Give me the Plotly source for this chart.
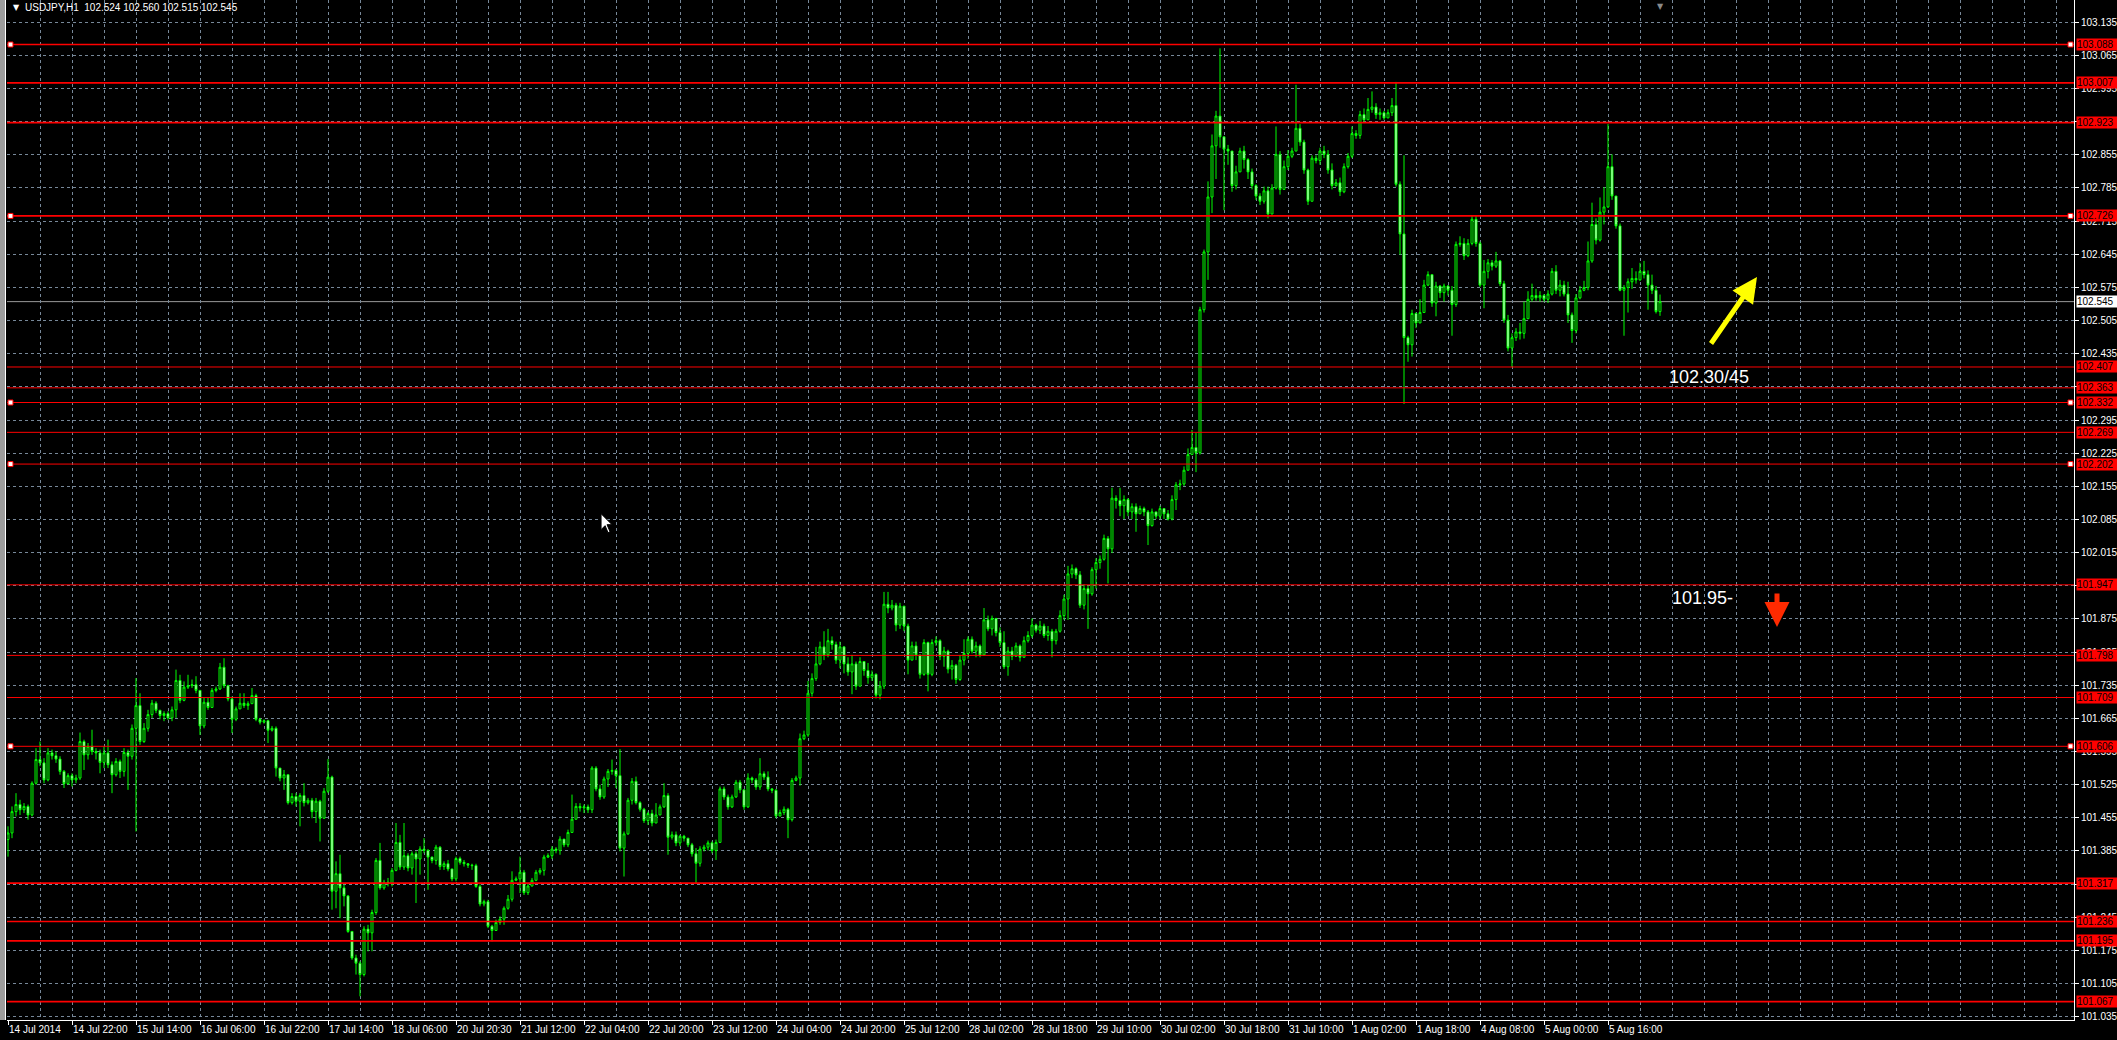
import plotly.graph_objects as go

# ---------------- data ----------------
chart_title = "USDJPY,H1  102.524 102.560 102.515 102.545"

x_labels = ["14 Jul 2014", "14 Jul 22:00", "15 Jul 14:00", "16 Jul 06:00", "16 Jul 22:00",
            "17 Jul 14:00", "18 Jul 06:00", "20 Jul 20:30", "21 Jul 12:00", "22 Jul 04:00",
            "22 Jul 20:00", "23 Jul 12:00", "24 Jul 04:00", "24 Jul 20:00", "25 Jul 12:00",
            "28 Jul 02:00", "28 Jul 18:00", "29 Jul 10:00", "30 Jul 02:00", "30 Jul 18:00",
            "31 Jul 10:00", "1 Aug 02:00", "1 Aug 18:00", "4 Aug 08:00", "5 Aug 00:00",
            "5 Aug 16:00"]

closes = [
    101.423, 101.468, 101.483, 101.472, 101.479, 101.461, 101.528, 101.578, 101.571, 101.535,
    101.592, 101.586, 101.579, 101.553, 101.527, 101.544, 101.535, 101.539, 101.616, 101.588,
    101.606, 101.595, 101.592, 101.572, 101.592, 101.567, 101.546, 101.574, 101.553, 101.593,
    101.585, 101.644, 101.692, 101.616, 101.644, 101.673, 101.697, 101.682, 101.671, 101.675,
    101.666, 101.683, 101.745, 101.703, 101.731, 101.734, 101.736, 101.724, 101.649, 101.699,
    101.688, 101.724, 101.727, 101.773, 101.734, 101.706, 101.663, 101.685, 101.697, 101.692,
    101.696, 101.713, 101.663, 101.657, 101.660, 101.640, 101.644, 101.560, 101.539, 101.546,
    101.487, 101.500, 101.490, 101.502, 101.487, 101.492, 101.468, 101.490, 101.454, 101.511,
    101.541, 101.300, 101.337, 101.307, 101.290, 101.215, 101.159, 101.148, 101.124, 101.220,
    101.212, 101.255, 101.365, 101.307, 101.319, 101.316, 101.344, 101.403, 101.351, 101.375,
    101.349, 101.379, 101.368, 101.389, 101.386, 101.372, 101.365, 101.393, 101.352, 101.358,
    101.347, 101.326, 101.369, 101.361, 101.358, 101.355, 101.354, 101.310, 101.273, 101.278,
    101.226, 101.217, 101.234, 101.241, 101.264, 101.283, 101.323, 101.326, 101.340, 101.297,
    101.311, 101.323, 101.340, 101.344, 101.372, 101.375, 101.389, 101.386, 101.410, 101.398,
    101.424, 101.452, 101.479, 101.476, 101.478, 101.472, 101.560, 101.516, 101.499, 101.537,
    101.553, 101.555, 101.544, 101.391, 101.421, 101.492, 101.532, 101.487, 101.473, 101.449,
    101.464, 101.444, 101.461, 101.478, 101.502, 101.414, 101.419, 101.402, 101.416, 101.412,
    101.398, 101.379, 101.359, 101.389, 101.393, 101.402, 101.386, 101.403, 101.516, 101.499,
    101.478, 101.499, 101.530, 101.514, 101.478, 101.539, 101.535, 101.520, 101.548, 101.541,
    101.516, 101.513, 101.459, 101.466, 101.473, 101.451, 101.534, 101.539,
    101.622, 101.630, 101.718, 101.749, 101.780, 101.816, 101.799, 101.829, 101.821, 101.788,
    101.816, 101.780, 101.763, 101.780, 101.733, 101.785, 101.766, 101.751, 101.758, 101.714,
    101.733, 101.906, 101.898, 101.904, 101.862, 101.902, 101.860, 101.788, 101.818, 101.799,
    101.758, 101.825, 101.758, 101.825, 101.829, 101.796, 101.807, 101.769, 101.777, 101.747,
    101.788, 101.802, 101.832, 101.807, 101.818, 101.799, 101.873, 101.854, 101.876, 101.846,
    101.825, 101.774, 101.807, 101.796, 101.818, 101.794, 101.829, 101.840, 101.862, 101.851,
    101.860, 101.840, 101.849, 101.829, 101.849, 101.882, 101.917, 101.970, 101.981, 101.968,
    101.904, 101.939, 101.928, 101.979, 101.994, 102.001, 102.045, 102.023, 102.130, 102.125,
    102.114, 102.127, 102.101, 102.112, 102.097, 102.108, 102.101, 102.072, 102.101, 102.092,
    102.108, 102.097, 102.086, 102.127, 102.158, 102.160, 102.189, 102.222, 102.237, 102.226,
    102.528, 102.650, 102.766, 102.874, 102.937, 102.893, 102.867, 102.863, 102.790, 102.819,
    102.863, 102.845, 102.819, 102.790, 102.768, 102.757, 102.779, 102.730, 102.785, 102.856,
    102.782, 102.830, 102.852, 102.863, 102.911, 102.882, 102.823, 102.757, 102.848, 102.843,
    102.863, 102.856, 102.823, 102.790, 102.796, 102.777, 102.830, 102.852, 102.900, 102.896,
    102.940, 102.929, 102.951, 102.956, 102.940, 102.944, 102.933, 102.944, 102.959, 102.793,
    102.688, 102.469, 102.454, 102.520, 102.500, 102.522, 102.580, 102.602, 102.542, 102.578,
    102.564, 102.578, 102.569, 102.539, 102.666, 102.668, 102.642, 102.668, 102.719, 102.668,
    102.580, 102.609, 102.627, 102.620, 102.631, 102.583, 102.506, 102.447, 102.469, 102.481,
    102.478, 102.509, 102.550, 102.558, 102.553, 102.558, 102.550, 102.561, 102.609, 102.569,
    102.580, 102.561, 102.517, 102.484, 102.553, 102.569, 102.575, 102.631, 102.708, 102.675,
    102.734, 102.745, 102.830, 102.768, 102.705, 102.569, 102.575, 102.587, 102.594, 102.591,
    102.609, 102.602, 102.580, 102.569, 102.524, 102.545,
]

opens = [
    101.409,
    101.423, 101.468, 101.483, 101.472, 101.479, 101.461, 101.528, 101.578, 101.571, 101.535,
    101.592, 101.586, 101.579, 101.553, 101.527, 101.544, 101.535, 101.539, 101.616, 101.588,
    101.606, 101.595, 101.592, 101.572, 101.592, 101.567, 101.546, 101.574, 101.553, 101.593,
    101.585, 101.644, 101.692, 101.616, 101.644, 101.673, 101.697, 101.682, 101.671, 101.675,
    101.666, 101.683, 101.745, 101.703, 101.731, 101.734, 101.736, 101.724, 101.649, 101.699,
    101.688, 101.724, 101.727, 101.773, 101.734, 101.706, 101.663, 101.685, 101.697, 101.692,
    101.696, 101.713, 101.663, 101.657, 101.660, 101.640, 101.644, 101.560, 101.539, 101.546,
    101.487, 101.500, 101.490, 101.502, 101.487, 101.492, 101.468, 101.490, 101.454, 101.511,
    101.541, 101.300, 101.337, 101.307, 101.290, 101.215, 101.159, 101.148, 101.124, 101.220,
    101.212, 101.255, 101.365, 101.307, 101.319, 101.316, 101.344, 101.403, 101.351, 101.375,
    101.349, 101.379, 101.368, 101.389, 101.386, 101.372, 101.365, 101.393, 101.352, 101.358,
    101.347, 101.326, 101.369, 101.361, 101.358, 101.355, 101.354, 101.310, 101.273, 101.278,
    101.226, 101.217, 101.234, 101.241, 101.264, 101.283, 101.323, 101.326, 101.340, 101.297,
    101.311, 101.323, 101.340, 101.344, 101.372, 101.375, 101.389, 101.386, 101.410, 101.398,
    101.424, 101.452, 101.479, 101.476, 101.478, 101.472, 101.560, 101.516, 101.499, 101.537,
    101.553, 101.555, 101.544, 101.391, 101.421, 101.492, 101.532, 101.487, 101.473, 101.449,
    101.464, 101.444, 101.461, 101.478, 101.502, 101.414, 101.419, 101.402, 101.416, 101.412,
    101.398, 101.379, 101.359, 101.389, 101.393, 101.402, 101.386, 101.403, 101.516, 101.499,
    101.478, 101.499, 101.530, 101.514, 101.478, 101.539, 101.535, 101.520, 101.548, 101.541,
    101.516, 101.513, 101.459, 101.466, 101.473, 101.451, 101.534, 101.539,
    101.622, 101.630, 101.718, 101.749, 101.780, 101.816, 101.799, 101.829, 101.821, 101.788,
    101.816, 101.780, 101.763, 101.780, 101.733, 101.785, 101.766, 101.751, 101.758, 101.714,
    101.733, 101.906, 101.898, 101.904, 101.862, 101.902, 101.860, 101.788, 101.818, 101.799,
    101.758, 101.825, 101.758, 101.825, 101.829, 101.796, 101.807, 101.769, 101.777, 101.747,
    101.788, 101.802, 101.832, 101.807, 101.818, 101.799, 101.873, 101.854, 101.876, 101.846,
    101.825, 101.774, 101.807, 101.796, 101.818, 101.794, 101.829, 101.840, 101.862, 101.851,
    101.860, 101.840, 101.849, 101.829, 101.849, 101.882, 101.917, 101.970, 101.981, 101.968,
    101.904, 101.939, 101.928, 101.979, 101.994, 102.001, 102.045, 102.023, 102.130, 102.125,
    102.114, 102.127, 102.101, 102.112, 102.097, 102.108, 102.101, 102.072, 102.101, 102.092,
    102.108, 102.097, 102.086, 102.127, 102.158, 102.160, 102.189, 102.222, 102.237, 102.226,
    102.528, 102.650, 102.766, 102.874, 102.937, 102.893, 102.867, 102.863, 102.790, 102.819,
    102.863, 102.845, 102.819, 102.790, 102.768, 102.757, 102.779, 102.730, 102.785, 102.856,
    102.782, 102.830, 102.852, 102.863, 102.911, 102.882, 102.823, 102.757, 102.848, 102.843,
    102.863, 102.856, 102.823, 102.790, 102.796, 102.777, 102.830, 102.852, 102.900, 102.896,
    102.940, 102.929, 102.951, 102.956, 102.940, 102.944, 102.933, 102.944, 102.959, 102.793,
    102.688, 102.469, 102.454, 102.520, 102.500, 102.522, 102.580, 102.602, 102.542, 102.578,
    102.564, 102.578, 102.569, 102.539, 102.666, 102.668, 102.642, 102.668, 102.719, 102.668,
    102.580, 102.609, 102.627, 102.620, 102.631, 102.583, 102.506, 102.447, 102.469, 102.481,
    102.478, 102.509, 102.550, 102.558, 102.553, 102.558, 102.550, 102.561, 102.609, 102.569,
    102.580, 102.561, 102.517, 102.484, 102.553, 102.569, 102.575, 102.631, 102.708, 102.675,
    102.734, 102.745, 102.830, 102.768, 102.705, 102.569, 102.575, 102.587, 102.594, 102.591,
    102.609, 102.602, 102.580, 102.569, 102.524,
]

highs = [
    101.437, 101.479, 101.507, 101.493, 101.486, 101.483, 101.532, 101.602, 101.616, 101.581,
    101.602, 101.599, 101.595, 101.585, 101.556, 101.549, 101.549, 101.546, 101.635, 101.620,
    101.613, 101.641, 101.602, 101.599, 101.606, 101.620, 101.574, 101.581, 101.578, 101.602,
    101.599, 101.652, 101.750, 101.718, 101.655, 101.683, 101.704, 101.701, 101.683, 101.680,
    101.680, 101.690, 101.768, 101.757, 101.743, 101.757, 101.747, 101.754, 101.725, 101.708,
    101.708, 101.729, 101.732, 101.782, 101.792, 101.736, 101.711, 101.690, 101.718, 101.718,
    101.701, 101.729, 101.717, 101.666, 101.663, 101.662, 101.649, 101.648, 101.558, 101.556,
    101.542, 101.507, 101.507, 101.507, 101.528, 101.497, 101.497, 101.497, 101.493, 101.518,
    101.579, 101.544, 101.363, 101.377, 101.314, 101.292, 101.215, 101.166, 101.152, 101.226,
    101.229, 101.261, 101.370, 101.402, 101.324, 101.328, 101.349, 101.444, 101.419, 101.444,
    101.380, 101.384, 101.384, 101.395, 101.412, 101.389, 101.373, 101.398, 101.395, 101.363,
    101.366, 101.342, 101.373, 101.373, 101.366, 101.359, 101.358, 101.358, 101.314, 101.282,
    101.282, 101.229, 101.240, 101.247, 101.268, 101.292, 101.342, 101.331, 101.373, 101.345,
    101.317, 101.328, 101.345, 101.349, 101.377, 101.380, 101.395, 101.393, 101.416, 101.409,
    101.430, 101.504, 101.486, 101.486, 101.483, 101.483, 101.564, 101.564, 101.525, 101.542,
    101.558, 101.578, 101.558, 101.600, 101.426, 101.497, 101.539, 101.542, 101.490, 101.476,
    101.468, 101.472, 101.486, 101.483, 101.528, 101.507, 101.426, 101.426, 101.419, 101.419,
    101.412, 101.402, 101.391, 101.395, 101.398, 101.407, 101.405, 101.409, 101.521, 101.521,
    101.504, 101.504, 101.535, 101.535, 101.514, 101.549, 101.542, 101.539, 101.581, 101.553,
    101.553, 101.518, 101.516, 101.472, 101.479, 101.476, 101.539, 101.544,
    101.633, 101.639, 101.744, 101.760, 101.816, 101.827, 101.849, 101.854, 101.838, 101.827,
    101.827, 101.799, 101.794, 101.799, 101.785, 101.794, 101.782, 101.782, 101.766, 101.760,
    101.744, 101.932, 101.932, 101.915, 101.909, 101.909, 101.898, 101.865, 101.827, 101.827,
    101.799, 101.832, 101.827, 101.832, 101.838, 101.832, 101.816, 101.810, 101.788, 101.780,
    101.799, 101.832, 101.838, 101.838, 101.827, 101.821, 101.898, 101.882, 101.882, 101.860,
    101.857, 101.849, 101.816, 101.816, 101.825, 101.821, 101.838, 101.849, 101.876, 101.865,
    101.871, 101.865, 101.860, 101.854, 101.854, 101.893, 101.926, 101.987, 101.990, 101.984,
    101.976, 101.948, 101.946, 101.984, 102.003, 102.009, 102.053, 102.050, 102.152, 102.136,
    102.152, 102.136, 102.130, 102.119, 102.119, 102.114, 102.112, 102.105, 102.108, 102.101,
    102.114, 102.108, 102.105, 102.136, 102.164, 102.169, 102.197, 102.235, 102.274, 102.268,
    102.534, 102.655, 102.799, 102.898, 102.948, 103.080, 102.882, 102.876, 102.859, 102.832,
    102.870, 102.874, 102.848, 102.826, 102.793, 102.774, 102.788, 102.788, 102.793, 102.915,
    102.863, 102.843, 102.865, 102.870, 103.003, 102.920, 102.887, 102.826, 102.854, 102.854,
    102.870, 102.874, 102.865, 102.837, 102.804, 102.807, 102.837, 102.859, 102.915, 102.907,
    102.948, 102.953, 102.975, 102.989, 102.964, 102.953, 102.948, 102.951, 102.975, 103.009,
    102.799, 102.854, 102.473, 102.528, 102.522, 102.550, 102.591, 102.609, 102.600, 102.587,
    102.580, 102.583, 102.580, 102.578, 102.672, 102.683, 102.679, 102.677, 102.727, 102.727,
    102.672, 102.633, 102.635, 102.633, 102.650, 102.633, 102.589, 102.517, 102.478, 102.489,
    102.500, 102.545, 102.567, 102.583, 102.572, 102.567, 102.561, 102.569, 102.616, 102.622,
    102.591, 102.589, 102.587, 102.522, 102.561, 102.578, 102.589, 102.672, 102.754, 102.721,
    102.765, 102.787, 102.920, 102.856, 102.754, 102.710, 102.580, 102.594, 102.616, 102.609,
    102.627, 102.631, 102.611, 102.602, 102.578, 102.560,
]

lows = [
    101.373, 101.412, 101.458, 101.461, 101.465, 101.451, 101.458, 101.525, 101.564, 101.528,
    101.532, 101.578, 101.571, 101.546, 101.518, 101.525, 101.521, 101.528, 101.535, 101.556,
    101.578, 101.588, 101.578, 101.549, 101.560, 101.560, 101.507, 101.542, 101.539, 101.542,
    101.514, 101.578, 101.426, 101.609, 101.613, 101.637, 101.666, 101.676, 101.663, 101.659,
    101.662, 101.659, 101.666, 101.697, 101.701, 101.727, 101.729, 101.718, 101.630, 101.644,
    101.683, 101.701, 101.720, 101.725, 101.729, 101.701, 101.634, 101.659, 101.687, 101.687,
    101.683, 101.704, 101.659, 101.652, 101.654, 101.613, 101.637, 101.542, 101.532, 101.514,
    101.483, 101.483, 101.479, 101.437, 101.479, 101.483, 101.454, 101.444, 101.405, 101.458,
    101.507, 101.261, 101.264, 101.243, 101.268, 101.212, 101.155, 101.124, 101.078, 101.120,
    101.173, 101.173, 101.250, 101.303, 101.303, 101.310, 101.310, 101.342, 101.345, 101.345,
    101.342, 101.335, 101.275, 101.335, 101.380, 101.303, 101.359, 101.356, 101.345, 101.345,
    101.342, 101.321, 101.321, 101.356, 101.352, 101.349, 101.345, 101.307, 101.268, 101.268,
    101.222, 101.194, 101.222, 101.229, 101.229, 101.261, 101.278, 101.321, 101.296, 101.292,
    101.292, 101.310, 101.321, 101.335, 101.333, 101.370, 101.368, 101.380, 101.377, 101.393,
    101.393, 101.423, 101.451, 101.468, 101.465, 101.465, 101.465, 101.511, 101.493, 101.495,
    101.520, 101.546, 101.518, 101.384, 101.331, 101.419, 101.483, 101.483, 101.468, 101.444,
    101.440, 101.437, 101.454, 101.472, 101.476, 101.377, 101.409, 101.395, 101.395, 101.405,
    101.393, 101.373, 101.317, 101.352, 101.384, 101.386, 101.380, 101.366, 101.402, 101.493,
    101.472, 101.476, 101.497, 101.507, 101.472, 101.476, 101.528, 101.514, 101.514, 101.535,
    101.511, 101.507, 101.454, 101.458, 101.461, 101.412, 101.447, 101.532,
    101.523, 101.619, 101.626, 101.711, 101.744, 101.777, 101.788, 101.794, 101.810, 101.780,
    101.771, 101.760, 101.755, 101.716, 101.725, 101.749, 101.755, 101.738, 101.744, 101.707,
    101.705, 101.727, 101.887, 101.893, 101.849, 101.854, 101.849, 101.758, 101.794, 101.788,
    101.749, 101.755, 101.722, 101.754, 101.818, 101.788, 101.774, 101.760, 101.747, 101.738,
    101.744, 101.777, 101.791, 101.802, 101.794, 101.794, 101.799, 101.849, 101.840, 101.838,
    101.816, 101.769, 101.755, 101.788, 101.805, 101.785, 101.810, 101.825, 101.835, 101.846,
    101.843, 101.835, 101.829, 101.794, 101.821, 101.846, 101.873, 101.873, 101.961, 101.959,
    101.898, 101.895, 101.854, 101.924, 101.939, 101.981, 101.998, 101.950, 102.014, 102.108,
    102.092, 102.086, 102.092, 102.086, 102.059, 102.097, 102.092, 102.031, 102.070, 102.086,
    102.086, 102.086, 102.083, 102.083, 102.105, 102.147, 102.156, 102.200, 102.222, 102.185,
    102.222, 102.522, 102.591, 102.732, 102.804, 102.870, 102.738, 102.834, 102.777, 102.782,
    102.837, 102.826, 102.804, 102.782, 102.760, 102.749, 102.752, 102.721, 102.735, 102.782,
    102.771, 102.788, 102.823, 102.848, 102.863, 102.874, 102.815, 102.749, 102.793, 102.837,
    102.834, 102.848, 102.815, 102.782, 102.788, 102.768, 102.774, 102.826, 102.848, 102.889,
    102.889, 102.922, 102.929, 102.944, 102.931, 102.929, 102.929, 102.940, 102.937, 102.788,
    102.644, 102.329, 102.418, 102.429, 102.489, 102.514, 102.539, 102.578, 102.534, 102.514,
    102.553, 102.545, 102.558, 102.473, 102.534, 102.661, 102.633, 102.639, 102.664, 102.661,
    102.576, 102.531, 102.594, 102.611, 102.616, 102.578, 102.500, 102.440, 102.407, 102.462,
    102.465, 102.467, 102.536, 102.545, 102.547, 102.545, 102.545, 102.542, 102.558, 102.561,
    102.556, 102.556, 102.500, 102.458, 102.478, 102.550, 102.567, 102.569, 102.627, 102.666,
    102.672, 102.708, 102.743, 102.760, 102.699, 102.567, 102.473, 102.522, 102.572, 102.583,
    102.589, 102.594, 102.528, 102.561, 102.520, 102.515,
]

levels = [103.088, 103.007, 102.923, 102.726, 102.407, 102.363, 102.332, 102.269, 102.202,
          101.947, 101.798, 101.709, 101.606, 101.317, 101.236, 101.195, 101.067]
selected_levels = [103.088, 102.726, 102.332, 102.202, 101.606]
bold_levels = [103.088, 103.007, 102.923, 102.726, 101.317, 101.236, 101.195, 101.067]
bid_price = 102.545

y_ticks = [101.035, 101.105, 101.175, 101.245, 101.315, 101.385, 101.455, 101.525, 101.595,
           101.665, 101.735, 101.805, 101.875, 101.945, 102.015, 102.085, 102.155, 102.225,
           102.295, 102.365, 102.435, 102.505, 102.575, 102.645, 102.715, 102.785, 102.855,
           102.925, 102.995, 103.065, 103.135]

note_up = "102.30/45"
note_down = "101.95-"

# ---------------- layout geometry / style ----------------
W, H = 2117, 1040
ML, MR, MT, MB = 7, 43, 0, 20
BAR_PX = 4
PLOT_W = W - ML - MR
BARS_PER_LABEL = 16
BARS_PER_GRID = 8
X0 = -0.25
X1 = X0 + PLOT_W / BAR_PX
Y_LO, Y_HI = 101.028, 103.182

FONT = "Liberation Sans, Arial, sans-serif"
FS = 10
GRID = "#778899"
GREEN = "#00ff00"
RED = "#ff0000"

n = min(len(opens), len(highs), len(lows), len(closes))
o, h, l, c = opens[:n], highs[:n], lows[:n], closes[:n]
hi = [max(a, b, d) for a, b, d in zip(h, o, c)]
lo = [min(a, b, d) for a, b, d in zip(l, o, c)]
idx = list(range(n))

fig = go.Figure()
fig.add_trace(go.Candlestick(
    x=idx, open=o, high=hi, low=lo, close=c,
    increasing=dict(line=dict(color=GREEN, width=1), fillcolor="#000000"),
    decreasing=dict(line=dict(color=GREEN, width=1), fillcolor="#ffffff"),
    whiskerwidth=0, hoverinfo="skip", showlegend=False,
))

major = [BARS_PER_LABEL * i for i in range(len(x_labels))]
minor = [v for v in range(0, int(X1) + 1, BARS_PER_GRID) if v not in major]

shapes = []
# bid line
shapes.append(dict(type="line", xref="paper", x0=0, x1=1, yref="y", y0=bid_price, y1=bid_price,
                   line=dict(color="#9a9a9a", width=1), layer="below"))
for lv in levels:
    shapes.append(dict(type="line", xref="paper", x0=0, x1=1, yref="y", y0=lv, y1=lv,
                       line=dict(color=RED, width=1.7 if lv in bold_levels else 1), layer="above"))
for lv in selected_levels:
    for anchor, a, b in ((0, 1, 6), (1, -6, -1)):
        shapes.append(dict(type="rect", xref="paper", xsizemode="pixel", xanchor=anchor, x0=a, x1=b,
                           yref="y", ysizemode="pixel", yanchor=lv, y0=-2.5, y1=2.5,
                           fillcolor="#ffffff", line=dict(color=RED, width=1), layer="above"))
# window frame at left
shapes.append(dict(type="rect", xref="paper", xsizemode="pixel", xanchor=0, x0=-7, x1=-1,
                   yref="paper", y0=0, y1=1, fillcolor="#9c9c9c", line=dict(width=0), layer="above"))
shapes.append(dict(type="line", xref="paper", xsizemode="pixel", xanchor=0, x0=-1.5, x1=-1.5,
                   yref="paper", y0=0, y1=1, line=dict(color="#ffffff", width=1), layer="above"))
# mouse pointer left on the chart
shapes.append(dict(type="path", xref="paper", xsizemode="pixel", xanchor=0.2874,
                   yref="paper", ysizemode="pixel", yanchor=0.4964,
                   path="M 0 0 L 0 -16 L 4 -12 L 7 -19 L 9 -18 L 6 -11 L 11 -11 Z",
                   fillcolor="#ffffff", line=dict(color="#000000", width=1), layer="above"))

annotations = []
for lv in levels:
    annotations.append(dict(xref="paper", x=1, xanchor="left", xshift=2, yref="y", y=lv,
                            text=f"{lv:.3f}", showarrow=False, bgcolor=RED, width=41, height=11,
                            borderpad=0, align="left", font=dict(family=FONT, size=FS, color="#000000")))
annotations.append(dict(xref="paper", x=1, xanchor="left", xshift=2, yref="y", y=bid_price,
                        text=f"{bid_price:.3f}", showarrow=False, bgcolor="#ffffff", width=41, height=11,
                        borderpad=0, align="left", font=dict(family=FONT, size=FS, color="#000000")))
# title
annotations.append(dict(xref="paper", yref="paper", x=0, y=1, xanchor="left", yanchor="top",
                        xshift=4, yshift=-1, text="▼", showarrow=False,
                        font=dict(family="DejaVu Sans", size=8, color="#ffffff")))
annotations.append(dict(xref="paper", yref="paper", x=0, y=1, xanchor="left", yanchor="top",
                        xshift=16, yshift=0, text=chart_title, showarrow=False,
                        font=dict(family=FONT, size=FS, color="#ffffff")))
# chart-shift marker
annotations.append(dict(xref="x", yref="paper", x=n - 1, y=1, xanchor="center", yanchor="top",
                        yshift=0, text="▼", showarrow=False,
                        font=dict(family="DejaVu Sans", size=8, color="#8a8a8a")))
# text notes
annotations.append(dict(xref="x", yref="y", x=425.3, y=102.386, text=note_up, showarrow=False,
                        xanchor="center", yanchor="middle",
                        font=dict(family="Liberation Sans, Arial, sans-serif", size=18, color="#ffffff")))
annotations.append(dict(xref="x", yref="y", x=423.5, y=101.919, text=note_down, showarrow=False,
                        xanchor="center", yanchor="middle",
                        font=dict(family="Liberation Sans, Arial, sans-serif", size=18, color="#ffffff")))
# arrows
annotations.append(dict(xref="x", yref="y", x=437.25, y=102.597, ax=-47, ay=68, text="",
                        showarrow=True, arrowhead=2, arrowsize=1.0, arrowwidth=5,
                        arrowcolor="#ffff00", standoff=0))
annotations.append(dict(xref="x", yref="y", x=442.25, y=101.858, ax=0, ay=-35, text="",
                        showarrow=True, arrowhead=2, arrowsize=1.0, arrowwidth=5,
                        arrowcolor="#ff2a00", standoff=0))

fig.update_layout(
    width=W, height=H,
    margin=dict(l=ML, r=MR, t=MT, b=MB, pad=0, autoexpand=False),
    paper_bgcolor="#000000", plot_bgcolor="#000000",
    showlegend=False,
    shapes=shapes, annotations=annotations,
    xaxis=dict(
        range=[X0, X1], tickmode="array", tickvals=major, ticktext=x_labels,
        ticks="outside", ticklen=4, tickcolor="#ffffff", tickwidth=1,
        ticklabelposition="outside right", tickangle=0, automargin=False,
        tickfont=dict(family=FONT, size=FS, color="#ffffff"),
        showgrid=True, gridcolor=GRID, griddash="3px,3px", gridwidth=1,
        minor=dict(tickmode="array", tickvals=minor, showgrid=True, gridcolor=GRID,
                   griddash="3px,3px", gridwidth=1, ticks=""),
        showline=True, linecolor="#ffffff", linewidth=1, zeroline=False,
        rangeslider=dict(visible=False), fixedrange=True,
    ),
    yaxis=dict(
        side="right", range=[Y_LO, Y_HI], tickmode="array", tickvals=y_ticks,
        ticktext=[f"{v:.3f}" for v in y_ticks], automargin=False,
        ticks="outside", ticklen=4, tickcolor="#ffffff", tickwidth=1,
        tickfont=dict(family=FONT, size=FS, color="#ffffff"),
        showgrid=True, gridcolor=GRID, griddash="3px,3px", gridwidth=1,
        showline=True, linecolor="#ffffff", linewidth=1, zeroline=False, fixedrange=True,
    ),
)

fig.write_html(
    "out.html",
    config={"displayModeBar": False, "staticPlot": True},
    post_script="document.body.style.margin='0';document.body.style.background='#000';"
                "document.body.style.overflow='hidden';",
)
